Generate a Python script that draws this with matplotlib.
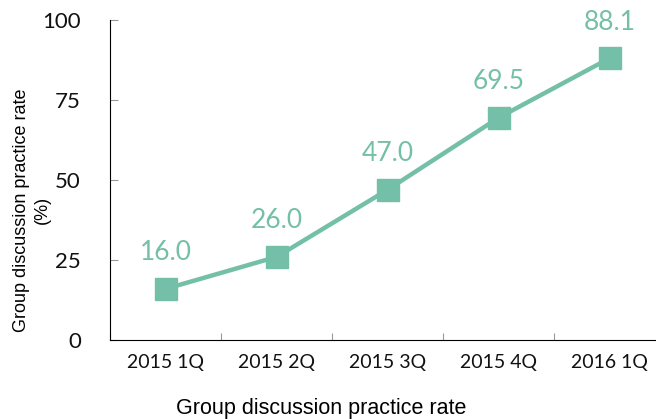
import matplotlib

matplotlib.use("Agg")
import matplotlib.pyplot as plt

quarters = ["2015 1Q", "2015 2Q", "2015 3Q", "2015 4Q", "2016 1Q"]
rates = [16.0, 26.0, 47.0, 69.5, 88.1]
yticks = [0, 25, 50, 75, 100]

GREEN = "#74bfa7"

fig = plt.figure(figsize=(6.56, 4.19), dpi=100)
ax = fig.add_axes([0.168, 0.1885, 0.846, 0.7635])

x = list(range(len(quarters)))
ax.plot(x, rates, "-", c=GREEN, lw=3.2, marker="s", ms=16.5, zorder=3)
for xi, v in zip(x, rates):
    ax.annotate(f"{v:.1f}", (xi, v), xytext=(0, 17), textcoords="offset points",
                ha="center", va="bottom", color=GREEN, fontsize=19,
                family="Lato")

ax.set_xlim(-0.5, len(quarters) - 0.5)
ax.set_ylim(0, 100)
ax.set_yticks(yticks)
ax.set_yticklabels([str(t) for t in yticks], fontsize=16, family="Lato",
                   color="#111111")
ax.set_xticks([i - 0.5 for i in range(len(quarters) + 1)])
ax.set_xticklabels([])
ax.set_xticks(x, minor=True)
ax.set_xticklabels(quarters, minor=True, fontsize=14, family="Lato",
                   color="#111111")
ax.tick_params(axis="x", which="minor", length=0, pad=10)
ax.tick_params(axis="x", which="major", direction="in", length=5, color="#999999")
ax.tick_params(axis="y", direction="in", length=6, color="#999999", pad=21)
for s in ("top", "right"):
    ax.spines[s].set_visible(False)

# axis titles placed on the figure, as in the original layout
fig.text(321 / 656, 1 - 408 / 419, "Group discussion practice rate",
         fontsize=15.5, family="Liberation Sans", ha="center", va="center")
fig.text(32 / 656, 1 - 210 / 419, "Group discussion practice rate\n(%)",
         fontsize=13, family="Liberation Sans", ha="center", va="center",
         rotation=90, linespacing=1.25, multialignment="center")

fig.savefig("out.png", dpi=100)
